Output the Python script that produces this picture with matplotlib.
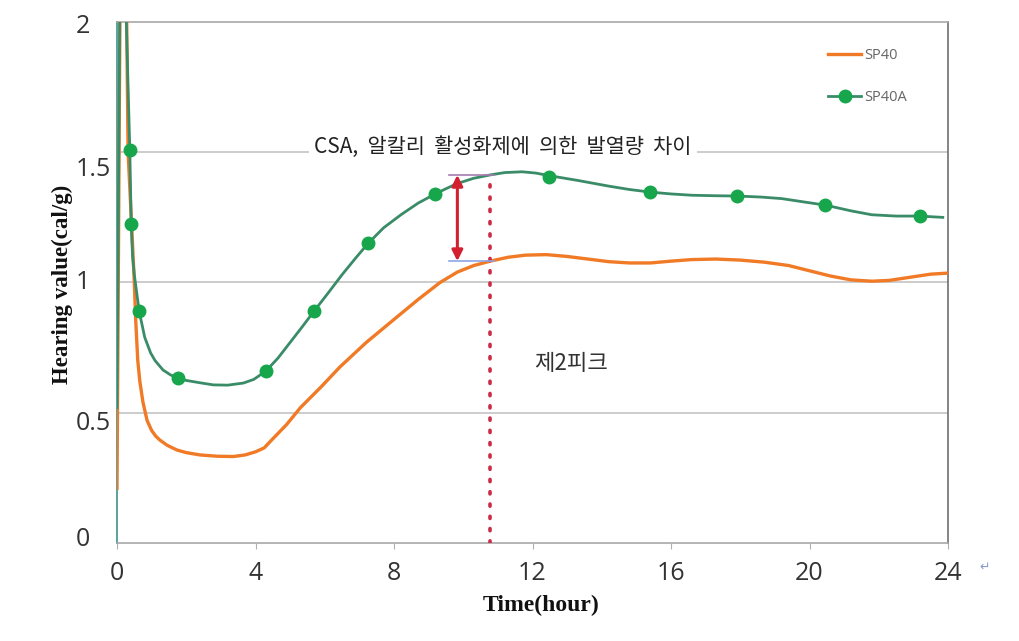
import matplotlib
matplotlib.use("Agg")
import matplotlib.pyplot as plt
from matplotlib.transforms import ScaledTranslation

# ---- data ----
sp40_x = [0.0, 0.12, 0.28, 0.32, 0.43, 0.50, 0.54, 0.60, 0.66, 0.75, 0.87, 1.0, 1.12, 1.24, 1.45,
          1.73, 2.0, 2.4, 2.9, 3.36, 3.7, 4.0, 4.25, 4.5, 4.9, 5.3, 5.9, 6.44, 7.2, 7.98, 8.7,
          9.33, 9.83, 10.3, 10.78, 11.3, 11.8, 12.4, 13.0, 13.6, 14.2, 14.8, 15.4, 16.0, 16.6,
          17.3, 18.0, 18.7, 19.4, 20.0, 20.6, 21.2, 21.8, 22.3, 22.9, 23.5, 24.0]
sp40_y = [0.21, 2.8, 2.0, 1.5, 1.2, 1.0, 0.856, 0.70, 0.62, 0.54, 0.47, 0.432, 0.41, 0.395, 0.375,
          0.357, 0.347, 0.338, 0.333, 0.332, 0.338, 0.35, 0.365, 0.40, 0.455, 0.52, 0.60, 0.676,
          0.77, 0.856, 0.935, 1.0, 1.04, 1.065, 1.082, 1.097, 1.105, 1.107, 1.10, 1.09, 1.08,
          1.075, 1.075, 1.082, 1.088, 1.09, 1.086, 1.078, 1.065, 1.045, 1.025, 1.01, 1.005,
          1.008, 1.02, 1.032, 1.036]

sp40a_x = [0.0, 0.12, 0.27, 0.33, 0.37, 0.41, 0.45, 0.50, 0.57, 0.64, 0.72, 0.80, 0.87, 0.97,
           1.1, 1.33, 1.55, 1.76, 2.0, 2.4, 2.78, 3.2, 3.65, 3.95, 4.3, 4.65, 5.0, 5.35, 5.69,
           6.1, 6.5, 6.9, 7.25, 7.7, 8.2, 8.7, 9.19, 9.5, 9.83, 10.3, 10.78, 11.2, 11.7, 12.1,
           12.49, 13.3, 14.2, 14.8, 15.4, 16.0, 16.6, 17.3, 17.9, 18.6, 19.2, 19.8, 20.46,
           21.2, 21.8, 22.5, 23.18, 23.85]
sp40a_y = [0.52, 2.8, 2.0, 1.7, 1.51, 1.225, 1.10, 1.03, 0.96, 0.89, 0.84, 0.79, 0.765, 0.73,
           0.70, 0.664, 0.645, 0.633, 0.624, 0.615, 0.607, 0.606, 0.614, 0.628, 0.66, 0.71,
           0.77, 0.83, 0.89, 0.96, 1.03, 1.095, 1.15, 1.21, 1.26, 1.305, 1.34, 1.36, 1.38, 1.40,
           1.413, 1.422, 1.425, 1.42, 1.41, 1.392, 1.37, 1.357, 1.347, 1.34, 1.335, 1.333,
           1.332, 1.328, 1.322, 1.31, 1.297, 1.275, 1.26, 1.255, 1.255, 1.25]

marker_x = [0.37, 0.41, 0.64, 1.76, 4.3, 5.69, 7.25, 9.19, 12.49, 15.4, 17.9, 20.46, 23.18]
marker_y = [1.51, 1.225, 0.89, 0.633, 0.66, 0.89, 1.15, 1.34, 1.405, 1.347, 1.332, 1.297, 1.255]

x_ticks = [0, 4, 8, 12, 16, 20, 24]
y_ticks = [0, 0.5, 1, 1.5, 2]
y_tick_labels = ["0", "0.5", "1", "1.5", "2"]

peak_time = 10.78
arrow_x = 9.83
arrow_top = 1.413
arrow_bottom = 1.082

title_text = "CSA,  알칼리  활성화제에  의한  발열량  차이"
peak_text = "제2피크"

# ---- figure ----
plt.rcParams['font.family'] = ['Noto Sans CJK KR', 'DejaVu Sans']

fig = plt.figure(figsize=(10.19, 6.41), dpi=100)
ax = fig.add_axes([117/1019, 1-543/641, (948-117)/1019, (543-22)/641])

ax.set_xlim(0, 24)
ax.set_ylim(0, 2)

for yv in [0.5, 1.0, 1.5]:
    ax.axhline(yv, color='#c4c4c4', lw=1.2, zorder=0)

orange = '#f07a26'
line_green = '#3a8c68'
mark_green = '#17a64b'

ax.plot(sp40_x, sp40_y, color=orange, lw=2.4, zorder=3, label='SP40',
        solid_joinstyle='round')
ax.plot(sp40a_x, sp40a_y, color=line_green, lw=2.0, zorder=4, solid_joinstyle='round')
ax.plot(marker_x, marker_y, ls='none', marker='o', ms=9, color=mark_green,
        markeredgecolor=mark_green, zorder=5)
# legend proxy
ax.plot([], [], color=line_green, lw=2.0, marker='o', ms=9, markerfacecolor=mark_green,
        markeredgecolor=mark_green, label='SP40A')

# dotted peak line
ax.plot([peak_time, peak_time], [0, arrow_top], color='#cc2a45', lw=2.6,
        ls=(0, (0.6, 2.8)), dash_capstyle='round', zorder=6)

# helper horizontal lines
ax.plot([arrow_x - 0.25, peak_time + 0.1], [arrow_top, arrow_top], color='#a77bb0', lw=1.2, zorder=6)
ax.plot([arrow_x - 0.25, peak_time + 0.1], [arrow_bottom, arrow_bottom], color='#8ea4e6', lw=1.2, zorder=6)

ax.annotate('', xy=(arrow_x, arrow_bottom), xytext=(arrow_x, arrow_top),
            arrowprops=dict(arrowstyle='<|-|>', color='#d41f30', lw=2.2,
                            mutation_scale=16, shrinkA=0, shrinkB=0), zorder=7)

ax.text(11.15, 1.52, title_text, fontsize=15, color='#222222', ha='center', va='center',
        bbox=dict(facecolor='white', edgecolor='none', pad=4), zorder=2)
ax.text(13.1, 0.69, peak_text, fontsize=16, color='#333333', ha='center', va='center')

# spines
for s in ['top', 'bottom']:
    ax.spines[s].set_color('#a8a8a8')
    ax.spines[s].set_linewidth(1.2)
ax.spines['right'].set_color('#707070')
ax.spines['right'].set_linewidth(1.2)
ax.spines['left'].set_color('#5aa0a0')
ax.spines['left'].set_linewidth(1.4)

ax.set_xticks(x_ticks)
ax.set_xticklabels([str(v) for v in x_ticks])
ax.set_yticks(y_ticks)
ax.set_yticklabels(y_tick_labels)
ax.tick_params(axis='x', length=4, color='#b0b0b0', labelsize=18, labelcolor='#333333', pad=9)
ax.tick_params(axis='y', length=0, labelsize=18, labelcolor='#333333', pad=30)
for lab in ax.get_xticklabels() + ax.get_yticklabels():
    lab.set_family(['Open Sans', 'DejaVu Sans'])
# y tick labels are left aligned in the reference, with small vertical offsets
y_offsets_px = [-7, 8, -3, 14, 2]
for lab, off in zip(ax.get_yticklabels(), y_offsets_px):
    lab.set_horizontalalignment('left')
    lab.set_transform(lab.get_transform() + ScaledTranslation(0, -off / 100, fig.dpi_scale_trans))

fig.text(541/1019, 1-605/641, 'Time(hour)', fontsize=17, fontweight='bold',
         family='Liberation Serif', ha='center', va='center', color='#111111')
fig.text(62/1019, 1-284/641, 'Hearing value(cal/g)', fontsize=16.5, fontweight='bold',
         family='Liberation Serif', ha='center', va='center', rotation=90, color='#111111')

leg = ax.legend(loc='upper left', bbox_to_anchor=((822-117)/831, 1-(42-22)/521),
                frameon=False, fontsize=10.5, handlelength=2.3, handletextpad=0.2,
                labelspacing=1.85, borderaxespad=0)
for t in leg.get_texts():
    t.set_color('#666666')
    t.set_family(['Open Sans', 'DejaVu Sans'])

fig.text(985/1019, 1-567/641, '↵', fontsize=9, color='#8899cc', ha='center', va='center',
         family='DejaVu Sans')

fig.savefig('out.png', dpi=100)
